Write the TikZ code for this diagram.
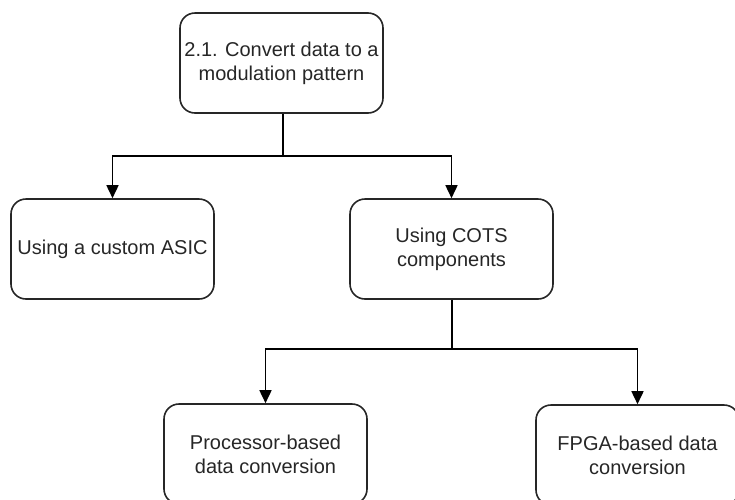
\documentclass[tikz,border=0pt]{standalone}
\usepackage{fontspec}
\setmainfont{Liberation Sans}
\usetikzlibrary{arrows.meta}
\begin{document}
\begin{tikzpicture}[x=1pt,y=-1pt,
  box/.style={draw=black!85, line width=1.6pt, rounded corners=15pt,
    minimum width=203pt, minimum height=100pt, align=center,
    font=\fontsize{20}{24}\selectfont, text=black!85, inner sep=2pt},
  conn/.style={draw=black, line width=1.6pt,
    -{Triangle[length=13pt,width=12pt]}}]
\useasboundingbox (0,0) rectangle (735,499);
\node[box] (top) at (281.5,63) {2.1. Convert data to a\\modulation pattern};
\node[box] (asic) at (112.5,249) {Using a custom ASIC};
\node[box] (cots) at (451.5,249) {Using COTS\\components};
\node[box] (proc) at (265.5,454) {Processor-based\\data conversion};
\node[box] (fpga) at (637.5,455) {FPGA-based data\\conversion};
\coordinate (s1) at (283,156);
\coordinate (s2) at (452,349);
\draw[conn] (top.south -| s1) -- (s1) -| (asic.north);
\draw[conn] (s1) -| (cots.north);
\draw[conn] (cots.south -| s2) -- (s2) -| (proc.north);
\draw[conn] (s2) -| (fpga.north);
\end{tikzpicture}
\end{document}
